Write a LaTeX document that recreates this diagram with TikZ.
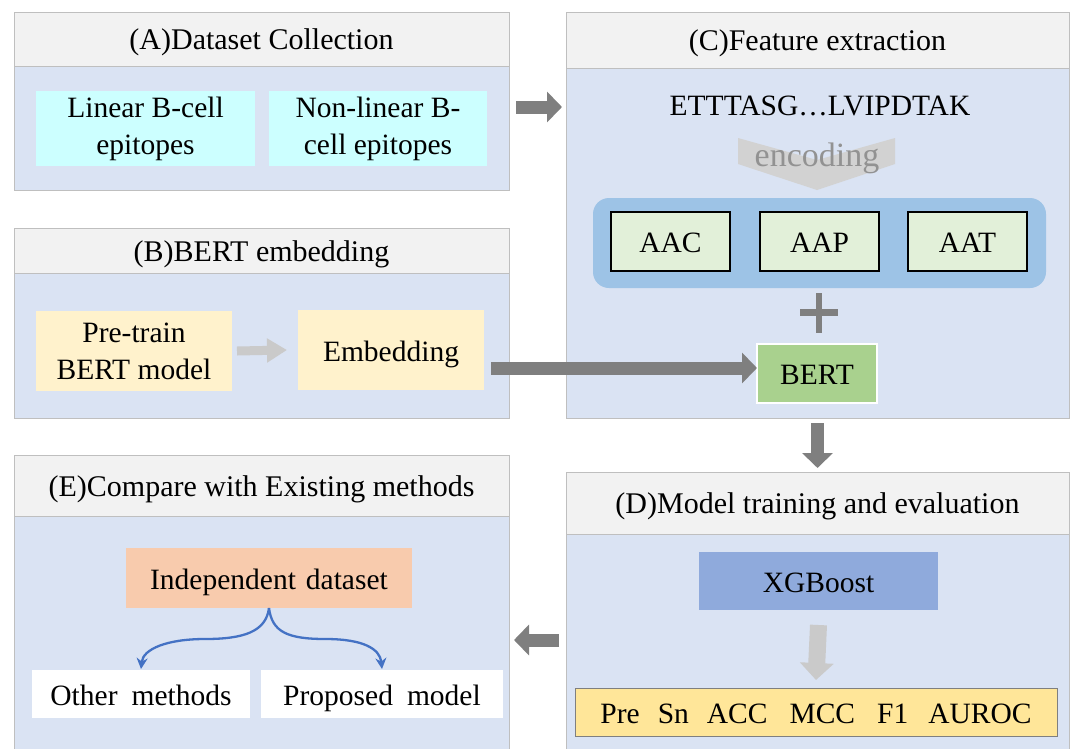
\documentclass[tikz,border=0pt]{standalone}
\usepackage{fontspec}
\setmainfont{Liberation Serif}
\usetikzlibrary{arrows.meta,calc}
\definecolor{hdrgray}{HTML}{F2F2F2}
\definecolor{bodyblue}{HTML}{DAE3F3}
\definecolor{bordergray}{HTML}{BFBFBF}
\definecolor{cyanbox}{HTML}{CCFFFF}
\definecolor{yelbox}{HTML}{FFF2CC}
\definecolor{grnlight}{HTML}{E2F0D9}
\definecolor{bluerr}{HTML}{9DC3E6}
\definecolor{bertgreen}{HTML}{A9D18E}
\definecolor{orangebox}{HTML}{F8CBAD}
\definecolor{xgbblue}{HTML}{8FAADC}
\definecolor{metyel}{HTML}{FFE699}
\definecolor{darkarr}{HTML}{7F7F7F}
\definecolor{lightarr}{HTML}{CACACA}
\definecolor{curveblue}{HTML}{4472C4}
\tikzset{
  every node/.style={inner sep=0pt, outer sep=0pt, font=\fontsize{29.5}{37}\selectfont, align=center},
  hdr/.style={draw=bordergray, line width=0.8pt, fill=hdrgray, anchor=north west,
    font=\fontsize{30}{37}\selectfont, text height=27pt, text depth=6pt},
  oneline/.style={text height=26pt, text depth=4pt},
  panelbody/.style={draw=bordergray, line width=0.8pt, fill=bodyblue, anchor=north west},
  cyanb/.style={fill=cyanbox},
  yelb/.style={fill=yelbox},
  featb/.style={draw=black, line width=1.2pt, fill=grnlight, minimum width=119, minimum height=59},
  bigarrow/.style={draw=darkarr, line width=13pt, -{Triangle[length=15pt,width=30pt]}},
  lightarrow/.style={draw=lightarr, line width=12pt, -{Triangle[length=17pt,width=30pt]}},
  curvearrow/.style={draw=curveblue, line width=2.3pt, -{Stealth[length=11pt,width=11pt]}}
}
\begin{document}
\begin{tikzpicture}[x=1pt,y=-1pt]
\useasboundingbox (0,0) rectangle (1074,748);
% Panel A
\node[panelbody, minimum width=495, minimum height=124] (Ab) at (14,66) {};
\node[hdr, minimum width=495, minimum height=54] (Ah) at (14,12) {(A)Dataset Collection};
% Panel B
\node[panelbody, minimum width=495, minimum height=145] (Bb) at (14,273) {};
\node[hdr, minimum width=495, minimum height=45] (Bh) at (14,228) {(B)BERT embedding};
% Panel C
\node[panelbody, minimum width=503, minimum height=350] (Cb) at (566,68) {};
\node[hdr, minimum width=503, minimum height=56] (Ch) at (566,12) {(C)Feature extraction};
% Panel D
\node[panelbody, minimum width=503, minimum height=218] (Db) at (566,534) {};
\node[hdr, minimum width=503, minimum height=62] (Dh) at (566,472) {(D)Model training and evaluation};
% Panel E
\node[panelbody, minimum width=495, minimum height=236] (Eb) at (14,516) {};
\node[hdr, minimum width=495, minimum height=61] (Eh) at (14,455) {(E)Compare with Existing methods};

% A contents
\node[cyanb, minimum width=219, minimum height=75] (lin) at (145.5,128.5) {Linear B-cell\\epitopes};
\node[cyanb, minimum width=218, minimum height=75] (nonlin) at (378,128.5) {Non-linear B-\\cell epitopes};

% B contents
\node[yelb, minimum width=196, minimum height=80] (pre) at (134,351) {Pre-train\\BERT model};
\node[yelb, oneline, minimum width=186, minimum height=80] (emb) at (391,350) {Embedding};
\draw[lightarrow, line width=9pt, -{Triangle[length=20pt,width=23pt]}] ([xshift=5pt]pre.east) -- ([xshift=-11pt]emb.west);

% C contents
\node[oneline] (seq) at (820,104) {ETTTASG…LVIPDTAK};
\fill[lightarr!85!white] (738,138) -- (817,160) -- (895,138) -- (895,164) -- (817,190) -- (738,164) -- cycle;
\node[text=darkarr!85!white, font=\fontsize{34}{40}\selectfont] (enc) at (817,158) {encoding};
\node[fill=bluerr, rounded corners=16pt, minimum width=453, minimum height=90] (grp) at (819.5,243) {};
\node[featb, oneline] (aac) at (670.5,241.5) {AAC};
\node[featb, oneline] (aap) at (819.5,241.5) {AAP};
\node[featb, oneline] (aat) at (967.5,241.5) {AAT};
\fill[darkarr] (800,309) rectangle (838,316);
\fill[darkarr] (816,293) rectangle (822,333);
\node[draw=white, oneline, line width=1.5pt, fill=bertgreen, minimum width=120, minimum height=59] (bert) at (817,373.5) {BERT};

% D contents
\node[fill=xgbblue, oneline, minimum width=239, minimum height=58] (xgb) at (818.5,581) {XGBoost};
\node[draw=darkarr, oneline, line width=1pt, fill=metyel, minimum width=482, minimum height=48] (met) at (816,712)
  {Pre\hspace{18pt}Sn\hspace{18pt}ACC\hspace{22pt}MCC\hspace{22pt}F1\hspace{20pt}AUROC};
\draw[lightarrow, line width=17pt, -{Triangle[length=17pt,width=33pt]}] ([yshift=-15pt]xgb.south) -- ([yshift=8pt]met.north);

% E contents
\node[fill=orangebox, oneline, minimum width=286, minimum height=60] (ind) at (269,578) {Independent\hspace{10pt}dataset};
\node[fill=white, oneline, minimum width=218, minimum height=48] (oth) at (141,694) {Other\hspace{14pt}methods};
\node[fill=white, oneline, minimum width=242, minimum height=48] (prop) at (382,694) {Proposed\hspace{14pt}model};
\coordinate (mL) at ($(ind.south)!0.5!(oth.north)$);
\coordinate (mR) at ($(ind.south)!0.5!(prop.north)$);
\draw[curvearrow] (ind.south) .. controls +(-3,24) and +(38,0) .. (mL) .. controls +(-38,0) and +(2,-20) .. ([yshift=1pt]oth.north);
\draw[curvearrow] (ind.south) .. controls +(3,24) and +(-38,0) .. (mR) .. controls +(38,0) and +(-2,-20) .. ([yshift=1pt]prop.north);

% Connectors between panels
\coordinate (acs) at ([xshift=7pt,yshift=21pt]Ab.east);
\draw[bigarrow] (acs) -- ([xshift=-4pt]acs -| Cb.west);
\coordinate (ebs) at ([xshift=7pt,yshift=-18pt]emb.east);
\draw[bigarrow] (ebs) -- (ebs -| bert.west);
\draw[bigarrow] ([yshift=-5pt]Cb.south) -- ([yshift=4pt]Dh.north);
\coordinate (des) at ([xshift=-7pt,yshift=3pt]Db.west);
\draw[bigarrow] (des) -- ([xshift=5pt]des -| Eb.east);
\end{tikzpicture}
\end{document}
